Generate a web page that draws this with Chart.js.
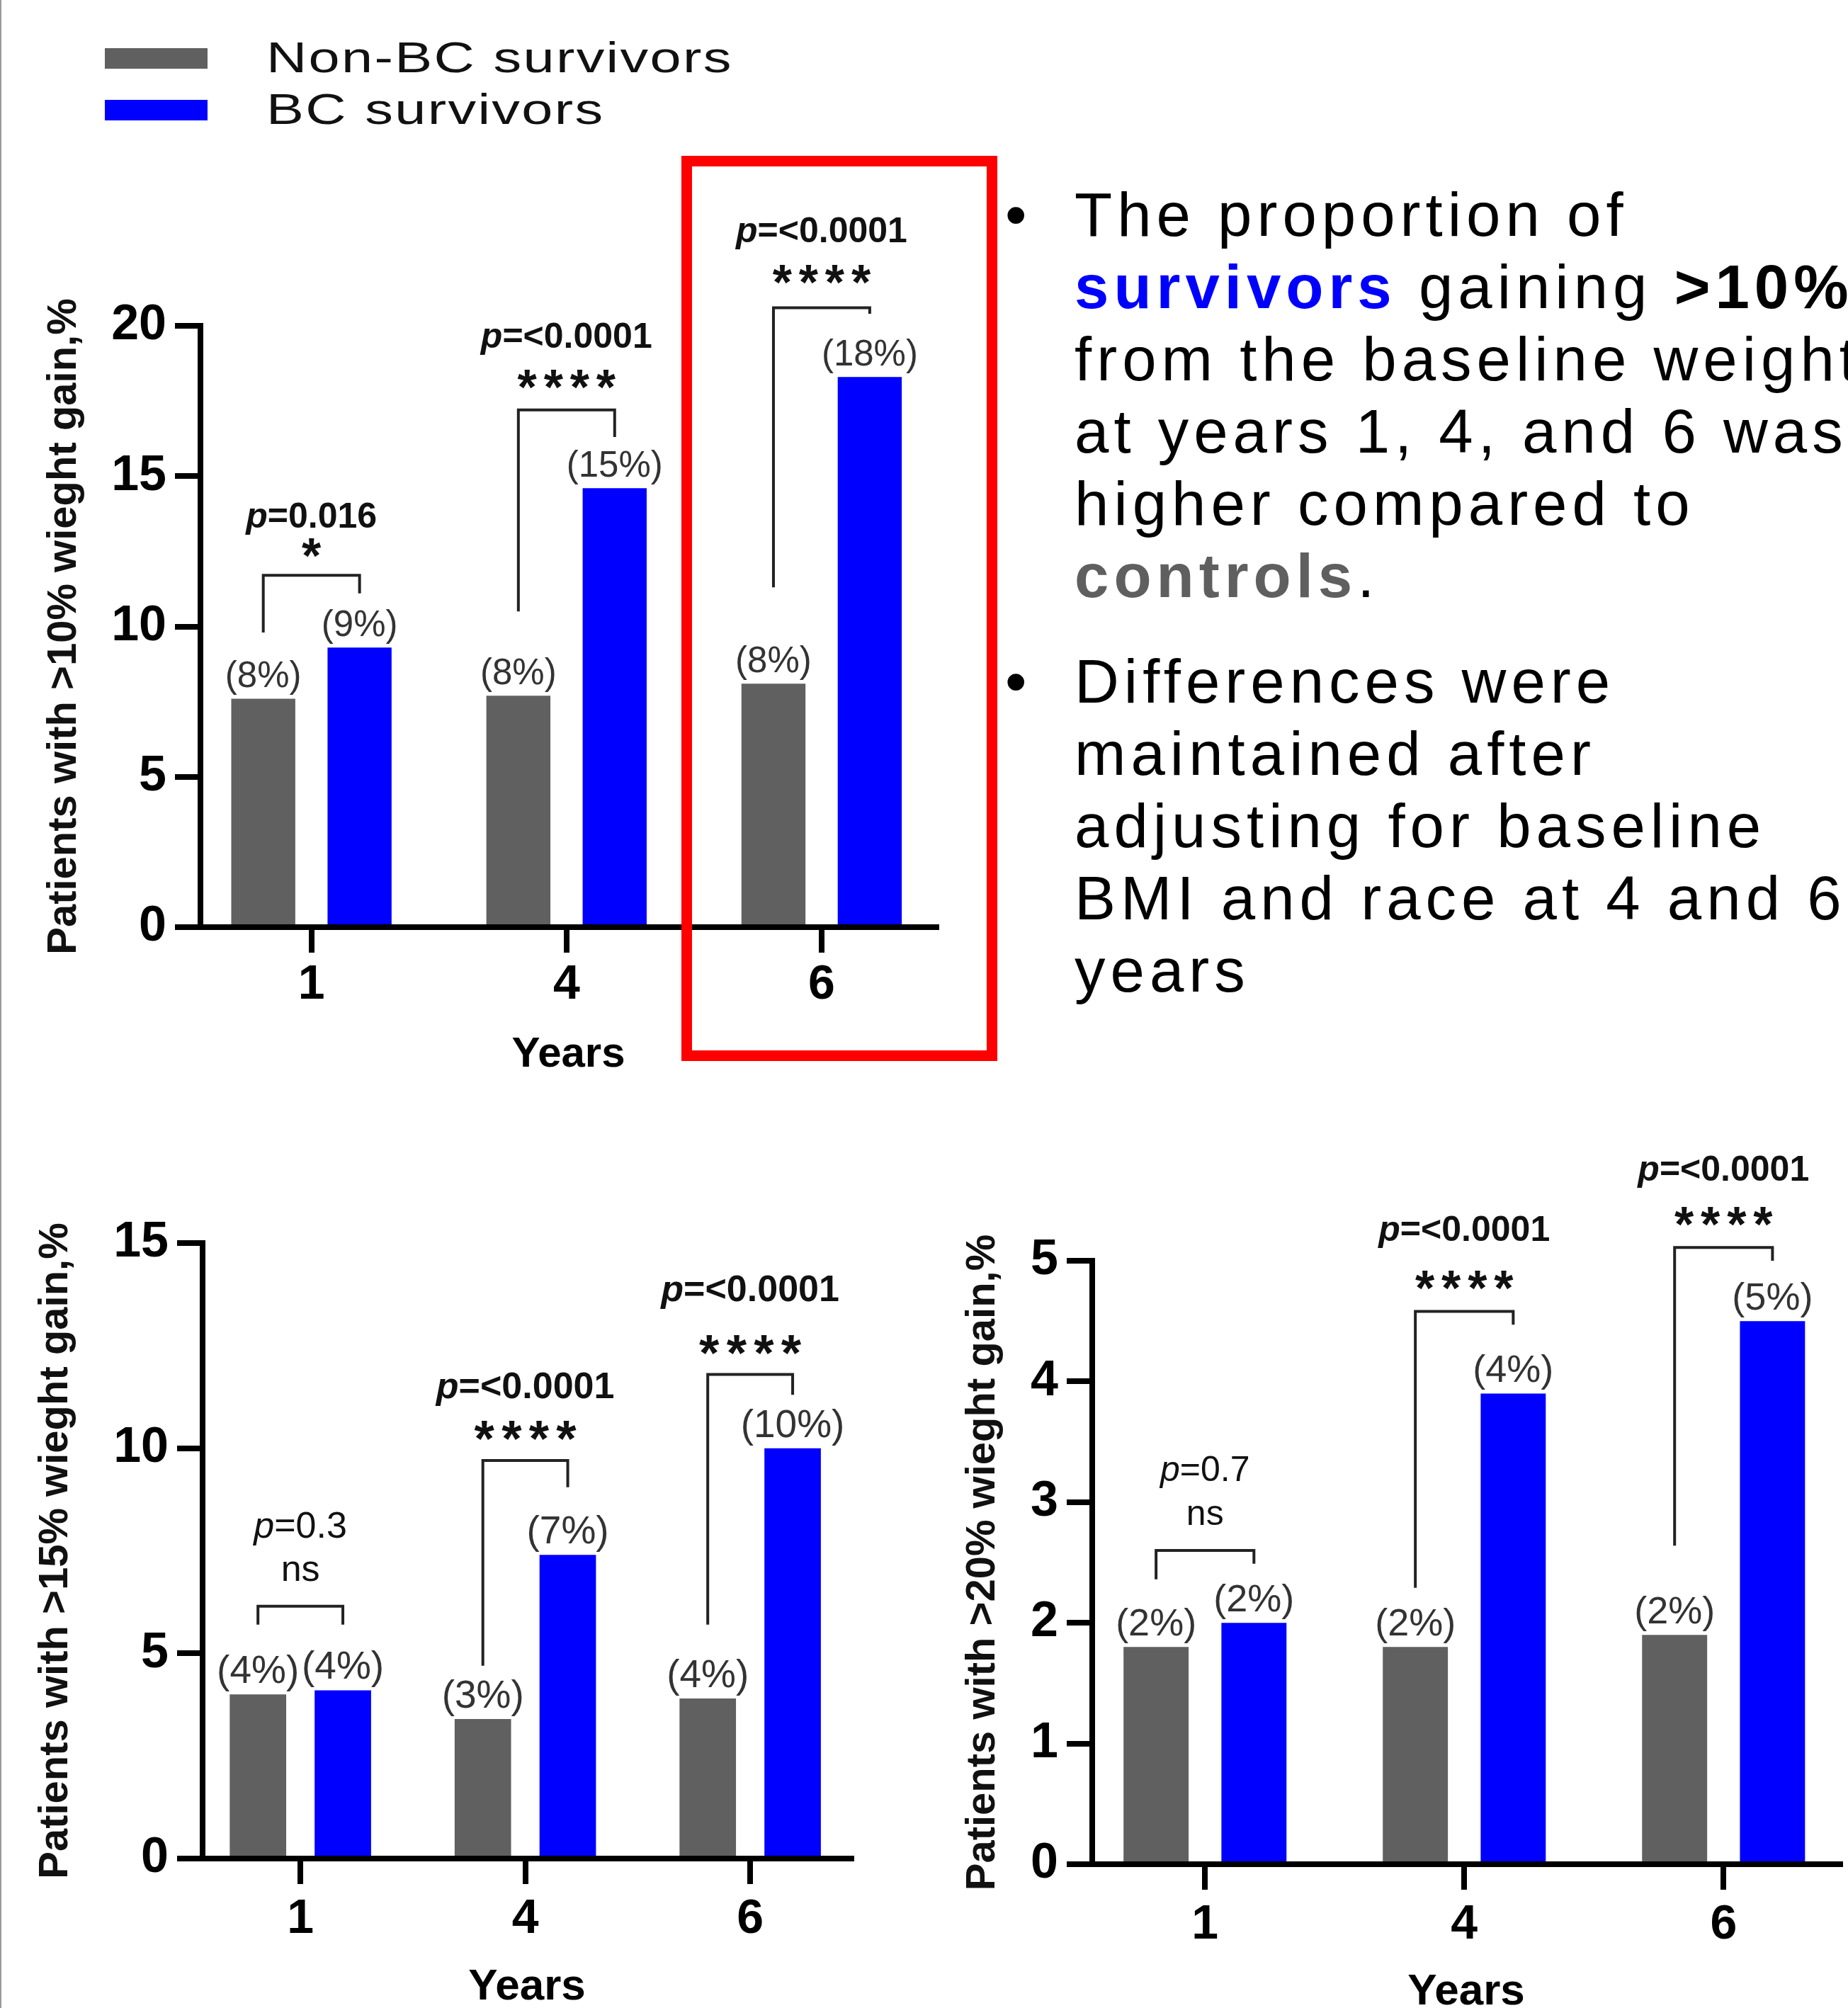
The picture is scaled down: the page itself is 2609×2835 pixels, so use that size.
<!DOCTYPE html>
<html>
<head>
<meta charset="utf-8">
<script src="https://cdn.jsdelivr.net/npm/chart.js@4.4.1/dist/chart.umd.min.js"></script>
<style>
html, body { margin: 0; padding: 0; overflow: hidden; background: #fff; }
body { position: relative; width: 2609px; height: 2835px; font-family: 'Liberation Sans', Arial, sans-serif; }
#edge { position: absolute; left: 0; top: 0; width: 2px; height: 2835px; background: #9a9a9a; }
.row { position: absolute; left: 0; height: 72px; font-size: 61px; line-height: 72px; letter-spacing: 1.8px; color: #111; white-space: nowrap; }
.row .box { position: absolute; left: 148px; top: 23px; width: 145px; height: 29px; }
.row .txt { position: absolute; left: 376px; top: 0; transform: scaleX(1.3); transform-origin: left center; }
canvas { position: absolute; }
#redbox { position: absolute; left: 962px; top: 220px; width: 446px; height: 1278px; border: 15px solid #ff0000; box-sizing: border-box; z-index: 5; }
.note { position: absolute; left: 1517px; font-size: 87px; line-height: 102px; letter-spacing: 7px; color: #000; white-space: nowrap; }
.note .dot { position: absolute; left: -98px; top: 0; letter-spacing: 0; }
</style>
</head>
<body>
<div id="edge"></div>
<div id="legend"></div>

<canvas id="c10" width="1340" height="1320" style="left:0; top:240px"></canvas>
<canvas id="c15" width="1230" height="1250" style="left:0; top:1600px"></canvas>
<canvas id="c20" width="1349" height="1250" style="left:1260px; top:1600px"></canvas>
<div id="redbox"></div>

<div class="note" style="top:252px">
  <span class="dot">•</span>
  The proportion of<br>
  <b style="color:#0000ff">survivors</b> gaining <b>&gt;10%</b><br>
  from the baseline weight<br>
  at years 1, 4, and 6 was<br>
  higher compared to<br>
  <b style="color:#5f5f5f">controls</b>.
</div>
<div class="note" style="top:911px">
  <span class="dot">•</span>
  Differences were<br>
  maintained after<br>
  adjusting for baseline<br>
  BMI and race at 4 and 6<br>
  years
</div>

<script>
const FONT = "'Liberation Sans', Arial, sans-serif";

// categories
const years = ['1', '4', '6'];
const xPos = [1, 2, 3];
const seriesNames = ['Non-BC survivors', 'BC survivors'];
const seriesColors = ['#606060', '#0000ff'];

// >10% weight gain
const nonBC10 = [7.6, 7.7, 8.1];
const bc10 = [9.3, 14.6, 18.3];
const nonBC10Text = ['(8%)', '(8%)', '(8%)'];
const bc10Text = ['(9%)', '(15%)', '(18%)'];
const p10 = ['0.016', '<0.0001', '<0.0001'];
const p10Bold = [true, true, true];
const sig10 = ['*', '****', '****'];
const legL10 = [9.8, 10.5, 11.3];
const top10 = [11.7, 17.2, 20.6];
const legR10 = [11.1, 16.3, 20.4];
const sigY10 = [12.7, 18.3, 21.8];
const pY10 = [13.7, 19.7, 23.2];

// >15% weight gain
const nonBC15 = [4.0, 3.4, 3.9];
const bc15 = [4.1, 7.4, 10.0];
const nonBC15Text = ['(4%)', '(3%)', '(4%)'];
const bc15Text = ['(4%)', '(7%)', '(10%)'];
const p15 = ['0.3', '<0.0001', '<0.0001'];
const p15Bold = [false, true, true];
const sig15 = ['ns', '****', '****'];
const legL15 = [5.7, 4.7, 5.7];
const top15 = [6.15, 9.7, 11.8];
const legR15 = [5.7, 9.05, 11.3];
const sigY15 = [7.0, 10.5, 12.6];
const pY15 = [8.15, 11.55, 13.9];

// >20% weight gain
const nonBC20 = [1.8, 1.8, 1.9];
const bc20 = [2.0, 3.9, 4.5];
const nonBC20Text = ['(2%)', '(2%)', '(2%)'];
const bc20Text = ['(2%)', '(4%)', '(5%)'];
const p20 = ['0.7', '<0.0001', '<0.0001'];
const p20Bold = [false, true, true];
const sig20 = ['ns', '****', '****'];
const legL20 = [2.36, 2.29, 2.64];
const top20 = [2.6, 4.58, 5.11];
const legR20 = [2.49, 4.47, 5.0];
const sigY20 = [2.89, 4.86, 5.39];
const pY20 = [3.28, 5.27, 5.77];

Chart.defaults.font.family = FONT;

// legend
const legend = document.getElementById('legend');
seriesNames.forEach((n, i) => {
  legend.innerHTML += `<div class="row" style="top:${45 + i * 73}px"><span class="box" style="background:${seriesColors[i]}"></span><span class="txt">${n}</span></div>`;
});

// brackets, p values and bar labels
function notes(o) {
  return {
    id: 'notes',
    afterDraw(chart) {
      const ctx = chart.ctx, a = chart.chartArea, ys = chart.scales.y;
      const g = chart.getDatasetMeta(0).data, b = chart.getDatasetMeta(1).data;
      ctx.save();
      ctx.save();
      ctx.translate(a.left + o.titleOff, (a.top + a.bottom) / 2);
      ctx.rotate(-Math.PI / 2);
      ctx.font = `bold 58px ${FONT}`;
      ctx.fillStyle = '#111';
      ctx.textAlign = 'center';
      ctx.textBaseline = 'middle';
      ctx.fillText(o.yTitle, 0, 0);
      ctx.restore();

      ctx.textAlign = 'center';
      ctx.textBaseline = 'alphabetic';
      ctx.font = `${o.labSize}px ${FONT}`;
      ctx.fillStyle = '#333';
      o.nonText.forEach((t, i) => ctx.fillText(t, g[i].x, g[i].y - 16));
      o.bcText.forEach((t, i) => ctx.fillText(t, b[i].x, b[i].y - 16));

      ctx.strokeStyle = '#222';
      ctx.lineWidth = 4;
      years.forEach((_, i) => {
        const x1 = g[i].x, x2 = b[i].x;
        const yt = ys.getPixelForValue(o.top[i]);
        ctx.beginPath();
        ctx.moveTo(x1, ys.getPixelForValue(o.legL[i]));
        ctx.lineTo(x1, yt);
        ctx.lineTo(x2, yt);
        ctx.lineTo(x2, ys.getPixelForValue(o.legR[i]));
        ctx.stroke();

        const cx = (x1 + x2) / 2;
        const s = o.sig[i], sy = ys.getPixelForValue(o.sigY[i]);
        ctx.fillStyle = '#111';
        ctx.textAlign = 'center';
        if (s === 'ns') {
          ctx.font = `${o.pSize}px ${FONT}`;
          ctx.fillText(s, cx, sy + 0.26 * o.pSize);
        } else {
          const ss = o.pSize * 1.4;
          ctx.font = `bold ${ss}px ${FONT}`;
          const step = 0.53 * ss;
          for (let k = 0; k < s.length; k++) {
            ctx.fillText(s[k], cx + (k - (s.length - 1) / 2) * step, sy + 0.56 * ss);
          }
        }

        const w = o.pBold[i] ? 'bold ' : '';
        const py = ys.getPixelForValue(o.pY[i]) + 0.36 * o.pSize;
        const rest = '=' + o.p[i];
        ctx.font = `italic ${w}${o.pSize}px ${FONT}`;
        const wp = ctx.measureText('p').width;
        ctx.font = `${w}${o.pSize}px ${FONT}`;
        const wr = ctx.measureText(rest).width;
        const x0 = cx - (wp + wr) / 2;
        ctx.textAlign = 'left';
        ctx.font = `italic ${w}${o.pSize}px ${FONT}`;
        ctx.fillText('p', x0, py);
        ctx.font = `${w}${o.pSize}px ${FONT}`;
        ctx.fillText(rest, x0 + wp, py);
      });
      ctx.restore();
    }
  };
}

function barChart(id, o) {
  const axisLine = { display: true, color: '#000', width: 8 };
  const tickLine = { offset: false, drawOnChartArea: false, drawTicks: true, tickLength: 36, lineWidth: 8, color: '#000' };
  const mk = (vals, i) => ({
    label: seriesNames[i],
    data: xPos.map((x, k) => ({ x: x, y: vals[k] })),
    backgroundColor: seriesColors[i],
    categoryPercentage: 0.755,
    barPercentage: 0.665
  });
  return new Chart(document.getElementById(id), {
    type: 'bar',
    data: { datasets: [mk(o.non, 0), mk(o.bc, 1)] },
    options: {
      responsive: false,
      animation: false,
      devicePixelRatio: 1,
      layout: { padding: o.pad },
      plugins: { legend: { display: false }, tooltip: { enabled: false } },
      scales: {
        x: {
          type: 'linear', min: 0.565, max: 3.45, offset: false, z: 1,
          afterBuildTicks: s => { s.ticks = xPos.map(v => ({ value: v })); },
          afterFit: s => { s.height = o.xH; },
          grid: tickLine,
          border: axisLine,
          ticks: {
            padding: o.xPad, color: '#000', maxRotation: 0,
            font: { size: 68, weight: 'bold' },
            callback: (v, i) => years[i]
          },
          title: { display: true, text: 'Years', color: '#000', padding: 0, font: { size: o.xTitleSize, weight: 'bold' } }
        },
        y: {
          min: 0, max: o.yMax, z: 1,
          afterFit: s => { s.width = o.yW; },
          grid: tickLine,
          border: axisLine,
          ticks: { stepSize: o.yStep, padding: 12, color: '#000', font: { size: 70, weight: 'bold' } }
        }
      }
    },
    plugins: [notes(o)]
  });
}

barChart('c10', {
  non: nonBC10, bc: bc10, nonText: nonBC10Text, bcText: bc10Text,
  p: p10, pBold: p10Bold, sig: sig10, legL: legL10, top: top10, legR: legR10, sigY: sigY10, pY: pY10,
  yMax: 20, yStep: 5, yTitle: 'Patients with >10% wieght gain,%',
  pad: { top: 220, bottom: 35, left: 0, right: 18 }, yW: 283, xH: 216, xPad: 5, xTitleSize: 60,
  titleOff: -192, labSize: 51, pSize: 50
});

barChart('c15', {
  non: nonBC15, bc: bc15, nonText: nonBC15Text, bcText: bc15Text,
  p: p15, pBold: p15Bold, sig: sig15, legL: legL15, top: top15, legR: legR15, sigY: sigY15, pY: pY15,
  yMax: 15, yStep: 5, yTitle: 'Patients with >15% wieght gain,%',
  pad: { top: 155, bottom: 7, left: 0, right: 28 }, yW: 286, xH: 219, xPad: 9, xTitleSize: 62,
  titleOff: -207, labSize: 55, pSize: 52
});

barChart('c20', {
  non: nonBC20, bc: bc20, nonText: nonBC20Text, bcText: bc20Text,
  p: p20, pBold: p20Bold, sig: sig20, legL: legL20, top: top20, legR: legR20, sigY: sigY20, pY: pY20,
  yMax: 5, yStep: 1, yTitle: 'Patients with >20% wieght gain,%',
  pad: { top: 180, bottom: 0, left: 0, right: 11 }, yW: 282, xH: 218, xPad: 9, xTitleSize: 62,
  titleOff: -154, labSize: 54, pSize: 50
});
</script>
</body>
</html>
